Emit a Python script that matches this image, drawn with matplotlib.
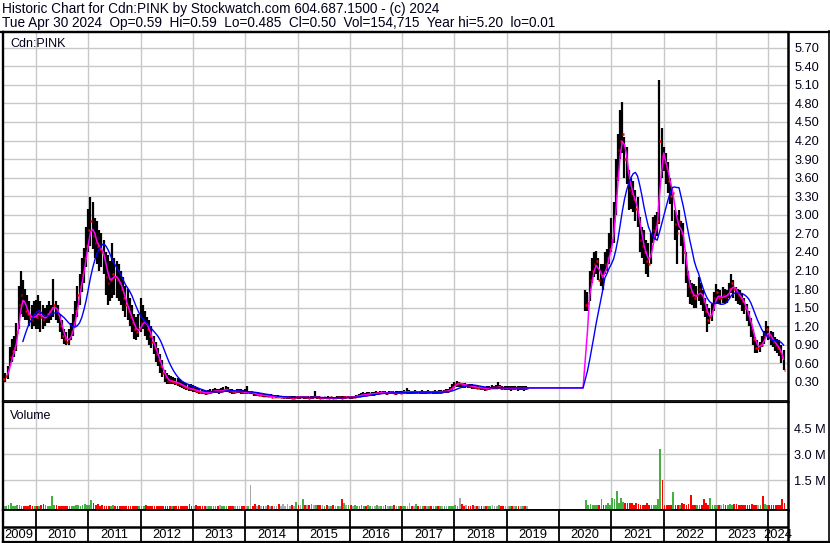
import numpy as np
import pandas as pd
import matplotlib
matplotlib.use("Agg")
import matplotlib.pyplot as plt
from matplotlib.lines import Line2D

# ---- data: semi-monthly samples (price in $, volume in millions)
# segment A: mid-2009 .. spring 2019, segment B: mid-2020 .. Apr 2024
START_A = 2009.375
START_B = 2020.5
STEP = 1 / 24

HI_A = [
    .44, .45, .55, .86, 1.00, 1.05, 1.25, 1.85, 2.10, 1.95, 1.80, 1.70, 1.60, 1.55, 1.60,
    1.62, 1.70, 1.60, 1.55, 1.50, 1.55, 1.60, 1.55, 1.97, 1.60, 1.55, 1.40, 1.30, 1.15, 1.10, 1.15, 1.25, 1.40, 1.60, 1.85, 2.05, 2.30, 2.47, 2.80,
    3.10, 3.28, 3.20, 2.95, 2.90, 2.75, 2.70, 2.60, 2.40, 2.35, 2.25, 2.55, 2.30, 2.25, 2.20, 2.10, 2.00, 1.85, 1.80, 1.65, 1.55, 1.40, 1.35, 1.40,
    1.66, 1.55, 1.45, 1.35, 1.30, 1.20, 1.05, .95, .85, .75, .65, .50, .45, .42, .40, .38, .37, .36, .34, .32, .30, .28, .27, .26,
    .25, .24, .22, .20, .18, .17, .16, .17, .18, .19, .20, .19, .19, .20, .22, .24, .22, .19, .18, .17, .18, .19, .18, .17,
    .18, .24, .16, .16, .14, .13, .13, .12, .12, .11, .11, .10, .10, .09, .09, .09, .08, .08, .08, .08, .07, .07, .07, .08,
    .07, .07, .08, .07, .07, .07, .07, .07, .16, .07, .07, .06, .06, .06, .07, .06, .06, .06, .07, .07, .08, .07, .07, .08,
    .07, .07, .08, .09, .11, .12, .13, .12, .13, .14, .13, .14, .15, .14, .15, .16, .15, .14, .15, .16, .15, .15, .16, .15,
    .16, .17, .20, .17, .16, .16, .17, .16, .16, .17, .16, .16, .17, .16, .16, .17, .16, .17, .17, .17, .18, .19, .22, .26,
    .30, .32, .30, .29, .28, .28, .27, .26, .26, .25, .25, .24, .23, .23, .22, .24, .24, .25, .24, .25, .30, .25, .24, .24,
    .24, .24, .23, .24, .24, .23, .24, .24, .23, .24,
]
LO_A = [
    .29, .30, .35, .55, .62, .70, .80, 1.15, 1.40, 1.35, 1.30, 1.30, 1.20, 1.15, 1.20,
    1.15, 1.15, 1.10, 1.15, 1.20, 1.25, 1.25, 1.30, 1.35, 1.30, 1.25, 1.10, 1.00, .92, .90, .90, .98, 1.05, 1.20, 1.35, 1.55, 1.75, 1.90, 2.15,
    2.40, 2.50, 2.45, 2.30, 2.20, 2.10, 2.15, 2.05, 1.70, 1.55, 1.60, 1.65, 1.70, 1.65, 1.60, 1.55, 1.45, 1.35, 1.30, 1.20, 1.10, 1.00, .98, 1.02,
    1.10, 1.15, 1.05, .98, .90, .85, .75, .62, .55, .45, .38, .30, .27, .26, .27, .26, .25, .24, .22, .20, .19, .17, .16, .15,
    .14, .13, .12, .11, .10, .10, .09, .10, .11, .12, .12, .12, .11, .12, .13, .14, .13, .12, .11, .11, .12, .12, .11, .10,
    .10, .11, .10, .10, .08, .08, .07, .07, .06, .06, .06, .05, .05, .05, .04, .04, .04, .04, .03, .03, .03, .03, .03, .03,
    .03, .03, .04, .03, .03, .03, .03, .03, .04, .03, .03, .03, .03, .02, .03, .03, .03, .02, .03, .03, .03, .03, .03, .04,
    .03, .03, .04, .05, .05, .06, .07, .07, .07, .08, .08, .08, .09, .09, .10, .10, .10, .09, .10, .10, .10, .09, .10, .10,
    .10, .11, .11, .11, .11, .11, .11, .11, .11, .11, .11, .11, .11, .11, .11, .11, .11, .11, .11, .12, .12, .12, .14, .17,
    .20, .22, .22, .22, .21, .21, .20, .20, .19, .19, .18, .18, .17, .17, .16, .17, .17, .18, .18, .18, .18, .18, .17, .17,
    .17, .17, .16, .17, .17, .16, .17, .17, .16, .17,
]
CL_A = [
    .35, .40, .50, .70, .80, .85, 1.10, 1.55, 1.70, 1.60, 1.45, 1.40, 1.35, 1.30, 1.40,
    1.35, 1.45, 1.35, 1.30, 1.35, 1.40, 1.45, 1.50, 1.55, 1.45, 1.40, 1.20, 1.05, 1.00, .95, 1.00, 1.10, 1.25, 1.45, 1.70, 1.85, 2.05, 2.30, 2.50,
    2.75, 2.90, 2.65, 2.55, 2.50, 2.45, 2.40, 2.30, 2.00, 1.90, 1.95, 2.05, 2.00, 1.95, 1.90, 1.80, 1.65, 1.55, 1.45, 1.35, 1.25, 1.15, 1.10, 1.15,
    1.25, 1.30, 1.25, 1.15, 1.05, .95, .85, .75, .65, .55, .45, .38, .32, .30, .32, .30, .29, .27, .26, .24, .22, .20, .19, .18,
    .18, .16, .15, .14, .13, .12, .12, .13, .14, .15, .16, .15, .15, .16, .17, .18, .16, .15, .14, .14, .15, .15, .14, .13,
    .13, .14, .14, .12, .10, .10, .09, .09, .08, .08, .07, .07, .06, .06, .06, .05, .05, .05, .05, .05, .05, .04, .04, .06,
    .05, .05, .06, .05, .05, .04, .05, .05, .06, .05, .04, .04, .05, .04, .04, .05, .04, .04, .05, .05, .04, .05, .05, .06,
    .05, .05, .06, .07, .08, .09, .10, .09, .10, .11, .11, .11, .12, .12, .13, .13, .12, .12, .13, .13, .12, .12, .13, .12,
    .13, .14, .14, .14, .13, .13, .14, .13, .13, .14, .13, .13, .14, .13, .13, .14, .13, .14, .14, .15, .15, .16, .19, .22,
    .26, .28, .28, .26, .25, .25, .24, .23, .22, .22, .21, .21, .20, .20, .19, .20, .21, .21, .21, .21, .22, .21, .20, .20,
    .20, .21, .20, .20, .21, .20, .20, .21, .20, .20,
]
VOL_A = [
    .03, .02, .05, .17, .04, .03, .05, .06, .04, .03, .03, .04, .10, .03, .02,
    .03, .04, .05, .13, .06, .04, .03, .57, .08, .05, .04, .03, .04, .03, .02, .03, .04, .03, .05, .06, .04, .05, .12, .08,
    .06, .34, .20, .05, .12, .04, .05, .03, .04, .03, .03, .05, .03, .02, .03, .02, .03, .02, .03, .02, .02, .03, .02, .03,
    .04, .03, .05, .04, .03, .03, .04, .03, .03, .04, .03, .03, .02, .03, .02, .03, .02, .03, .02, .03, .02, .03, .12, .02,
    .03, .10, .02, .03, .02, .03, .02, .03, .02, .02, .03, .02, .07, .02, .03, .02, .02, .03, .02, .02, .03, .02, .02, .03,
    .04, .03, 1.25, .04, .12, .03, .10, .04, .03, .03, .10, .03, .04, .03, .04, .12, .03, .15, .04, .12, .03, .10, .04, .23,
    .05, .06, .40, .08, .10, .06, .15, .10, .08, .10, .06, .05, .04, .05, .04, .03, .05, .04, .03, .04, .45, .17, .06, .05,
    .05, .04, .10, .04, .03, .05, .04, .03, .05, .04, .03, .04, .10, .03, .04, .03, .05, .04, .03, .04, .05, .03, .04, .03,
    .03, .04, .03, .17, .04, .03, .12, .04, .03, .04, .03, .02, .03, .04, .03, .02, .03, .04, .03, .02, .03, .04, .03, .04,
    .05, .04, .50, .15, .04, .05, .03, .04, .05, .04, .03, .04, .03, .04, .03, .04, .03, .05, .04, .03, .10, .04, .03, .04,
    .03, .04, .03, .02, .03, .02, .02, .03, .02, .02,
]

HI_B = [
    1.78, 1.75, 2.10, 2.31, 2.40, 2.42, 2.30, 2.21, 2.20, 2.40, 2.45, 2.70, 2.95, 3.20, 3.90, 4.31, 4.70, 4.83, 4.25, 4.10,
    3.72, 3.60, 3.55, 3.40, 3.28, 2.96, 2.80, 2.75, 2.60, 2.55, 2.70, 2.96, 3.00, 3.05, 5.18, 4.40, 4.10, 4.00, 3.85, 3.60,
    3.40, 3.07, 3.00, 3.07, 2.90, 2.86, 2.40, 2.10, 1.94, 1.90, 1.89, 1.85, 2.00, 1.90, 1.78, 1.65, 1.56, 1.50, 1.56, 1.75,
    1.89, 1.80, 1.78, 1.83, 1.80, 1.78, 1.90, 2.05, 1.95, 1.83, 1.80, 1.78, 1.72, 1.65, 1.56, 1.45, 1.34, 1.15, 1.02, .97,
    .95, 1.05, 1.13, 1.29, 1.20, 1.13, 1.10, 1.02, 1.00, .97, .90, .81,
]
LO_B = [
    1.45, 1.45, 1.60, 1.90, 2.00, 2.05, 1.95, 1.85, 1.78, 2.05, 2.10, 2.21, 2.40, 2.54, 3.00, 3.55, 3.90, 4.00, 3.60, 3.50,
    3.07, 3.10, 3.05, 2.90, 2.80, 2.40, 2.31, 2.21, 2.05, 1.99, 2.20, 2.55, 2.60, 2.65, 2.85, 3.60, 3.70, 3.50, 3.35, 3.18,
    2.90, 2.60, 2.21, 2.75, 2.50, 2.21, 1.90, 1.67, 1.56, 1.55, 1.50, 1.50, 1.61, 1.55, 1.45, 1.35, 1.10, 1.24, 1.28, 1.45,
    1.56, 1.56, 1.56, 1.58, 1.56, 1.58, 1.65, 1.73, 1.65, 1.61, 1.56, 1.55, 1.45, 1.40, 1.29, 1.20, 1.02, .90, .76, .76,
    .78, .86, .92, 1.02, .98, .90, .86, .80, .76, .72, .60, .485,
]
CL_B = [
    1.55, 1.58, 1.95, 2.10, 2.20, 2.25, 1.95, 2.05, 1.95, 2.20, 2.30, 2.45, 2.60, 2.90, 3.60, 4.05, 4.20, 4.30, 3.90, 3.70,
    3.40, 3.35, 3.25, 3.10, 3.00, 2.60, 2.50, 2.40, 2.25, 2.20, 2.50, 2.75, 2.80, 2.90, 4.20, 3.95, 3.85, 3.75, 3.55, 3.30,
    3.35, 2.85, 2.70, 2.90, 2.70, 2.40, 2.05, 1.85, 1.75, 1.70, 1.65, 1.70, 1.80, 1.70, 1.60, 1.45, 1.30, 1.35, 1.45, 1.65,
    1.75, 1.65, 1.65, 1.70, 1.68, 1.70, 1.80, 1.90, 1.80, 1.75, 1.70, 1.65, 1.60, 1.50, 1.40, 1.30, 1.15, 1.00, .85, .85,
    .92, .90, 1.05, 1.15, 1.05, 1.00, .95, .90, .85, .80, .70, .50,
]
VOL_B = [
    .34, .05, .11, .07, .05, .08, .06, .40, .05, .08, .17, .10, .50, .45, .90, .17, .50, .25, .17, .20,
    .20, .20, .10, .20, .12, .08, .10, .06, .17, .10, .08, .06, .10, .40, 3.30, 1.50, .10, .08, .10, .06,
    .85, .05, .08, .06, .20, .15, .10, .12, .68, .10, .06, .10, .08, .10, .45, .17, .10, .50, .08, .06,
    .08, .06, .05, .12, .06, .08, .12, .10, .15, .12, .07, .06, .07, .05, .08, .06, .12, .05, .06, .10,
    .05, .57, .15, .06, .05, .07, .08, .05, .06, .10, .40, .17,
]

PRICE_TICKS = np.arange(0.30, 5.71, 0.30)
VOL_TICKS = [1.5, 3.0, 4.5]
YEARS = list(range(2010, 2025))

HEADER_1 = "Historic Chart for Cdn:PINK by Stockwatch.com 604.687.1500 - (c) 2024"
HEADER_2 = "Tue Apr 30 2024  Op=0.59  Hi=0.59  Lo=0.485  Cl=0.50  Vol=154,715  Year hi=5.20  lo=0.01"

# ---- layout (pixels of the 830x543 canvas)
W, H = 830, 543
X_LEFT, X_RIGHT = 2.5, 788
XMIN, XMAX = 2009.36, 2024.376
GRID = "#c8c8c8"
INK = "#000018"

plt.rcParams["font.family"] = ["Liberation Sans", "DejaVu Sans"]


def fx(px):
    return px / W


def fy(py):
    return 1 - py / H


def add_axes(top, bottom):
    return fig.add_axes([fx(X_LEFT), fy(bottom), fx(X_RIGHT) - fx(X_LEFT), fy(top) - fy(bottom)])


def hold_over_gap(values):
    # moving averages stay flat through the non-trading gap, then resume
    n = len(t_a)
    x = np.concatenate([t_a, [t_b[0] - STEP], t_b])
    y = np.concatenate([values[:n], [values[n - 1]], values[n:]])
    return x, y


t_a = START_A + np.arange(len(CL_A)) * STEP
t_b = START_B + np.arange(len(CL_B)) * STEP
t = np.concatenate([t_a, t_b])
hi = np.array(HI_A + HI_B)
lo = np.array(LO_A + LO_B)
cl = np.array(CL_A + CL_B)
vol = np.array(VOL_A + VOL_B)

ma_fast = pd.Series(cl).rolling(3).mean().values
ma_slow = pd.Series(cl).rolling(10).mean().values

chg = np.diff(cl, prepend=cl[0])
vol_colors = np.where(chg > 0, "#44b044", np.where(chg < 0, "#ff0000", "#a8a8a8"))

fig = plt.figure(figsize=(W / 100, H / 100), dpi=100)
fig.patch.set_facecolor("white")

# ---- price panel
ax = add_axes(32, 400.5)
ax.set_xlim(XMIN, XMAX)
ax.set_ylim(0, (400.5 - 32) / 61.9)
for v in PRICE_TICKS:
    ax.axhline(v, color=GRID, lw=1.0, zorder=0)
for yr in YEARS:
    ax.axvline(yr, color=GRID, lw=1.0, zorder=0)
ax.vlines(t, lo, hi, color="black", lw=1.6, zorder=2)
ax.hlines(cl, t, t + 0.7 * STEP, color="#ff0000", lw=1.8, zorder=3)
ax.plot(*hold_over_gap(ma_fast), color="#ff00ff", lw=1.1, zorder=4)
ax.plot(*hold_over_gap(ma_slow), color="#0000ff", lw=1.0, zorder=5)
ax.yaxis.tick_right()
ax.set_yticks(PRICE_TICKS)
ax.set_yticklabels([f"{v:.2f}" for v in PRICE_TICKS])
ax.tick_params(axis="y", length=0, pad=4.5, labelsize=9.2, labelcolor=INK)
ax.set_xticks([])
ax.text(0.01, 0.985, "Cdn:PINK", transform=ax.transAxes, ha="left", va="top",
        fontsize=9, color=INK)
for side, lw in [("left", 1.7), ("right", 1.8), ("top", 1.6), ("bottom", 1.3)]:
    ax.spines[side].set_linewidth(lw)
    ax.spines[side].set_color("black")

# ---- volume panel
axv = add_axes(402, 509.5)
axv.set_xlim(XMIN, XMAX)
vmin = -(509.5 - 506.3) / 17.33
axv.set_ylim(vmin, (506.3 - 402) / 17.33)
for v in VOL_TICKS:
    axv.axhline(v, color=GRID, lw=1.0, zorder=0)
for yr in YEARS:
    axv.axvline(yr, color=GRID, lw=1.0, zorder=0)
axv.bar(t, vol - vmin, bottom=vmin, width=0.8 * STEP, color=vol_colors, align="edge",
        linewidth=0, zorder=2)
axv.yaxis.tick_right()
axv.set_yticks(VOL_TICKS)
axv.set_yticklabels([f"{v:.1f} M" for v in VOL_TICKS])
axv.tick_params(axis="y", length=0, pad=4.5, labelsize=9.2, labelcolor=INK)
axv.set_xticks([])
axv.text(0.01, 0.93, "Volume", transform=axv.transAxes, ha="left", va="top",
         fontsize=9, color=INK)
for side, lw in [("left", 1.7), ("right", 1.8), ("top", 0.8), ("bottom", 1.3)]:
    axv.spines[side].set_linewidth(lw)
    axv.spines[side].set_color("black")

# ---- year strip (empty boxes + labels)
axx = add_axes(509.5, 542)
axx.set_xlim(XMIN, XMAX)
axx.set_ylim(0, 1)
axx.axhline((542 - 526.5) / (542 - 509.5), color="black", lw=1.8)
for yr in YEARS:
    axx.axvline(yr, color="black", lw=1.3)
edges = [XMIN] + YEARS + [XMAX]
for yr, a, b in zip([2009] + YEARS, edges[:-1], edges[1:]):
    axx.text((a + b) / 2, 0.22, str(yr), ha="center", va="center", fontsize=9.3,
             color="black", clip_on=False)
axx.set_xticks([])
axx.set_yticks([])
for side, lw in [("left", 1.7), ("right", 1.8), ("top", 1.3), ("bottom", 1.6)]:
    axx.spines[side].set_linewidth(lw)
    axx.spines[side].set_color("black")

# ---- outer frame of the right label column
fig.add_artist(Line2D([fx(828.5), fx(828.5)], [fy(31), fy(543)], color="black", lw=1.2))
fig.add_artist(Line2D([fx(788), fx(829)], [fy(542), fy(542)], color="black", lw=1.6))
fig.add_artist(Line2D([0, 1], [fy(31.5), fy(31.5)], color="black", lw=1.6))

# ---- header
fig.text(fx(2), fy(9), HEADER_1, ha="left", va="center", fontsize=9.8, color=INK)
fig.text(fx(2), fy(23), HEADER_2, ha="left", va="center", fontsize=9.8, color=INK)

fig.savefig("out.png", dpi=100, facecolor="white")
